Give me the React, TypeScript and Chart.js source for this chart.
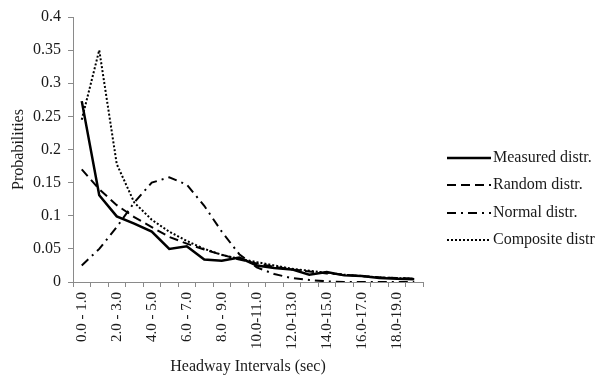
import React, { useEffect, useRef } from "react";
import { Chart, registerables } from "chart.js";

Chart.register(...registerables);

const categories = [
  "0.0 - 1.0", "1.0 - 2.0", "2.0 - 3.0", "3.0 - 4.0", "4.0 - 5.0",
  "5.0 - 6.0", "6.0 - 7.0", "7.0 - 8.0", "8.0 - 9.0", "9.0 - 10.0",
  "10.0-11.0", "11.0-12.0", "12.0-13.0", "13.0-14.0", "14.0-15.0",
  "15.0-16.0", "16.0-17.0", "17.0-18.0", "18.0-19.0", "19.0-20.0",
];

const measured = [0.273, 0.131, 0.099, 0.088, 0.076, 0.050, 0.054, 0.034, 0.032, 0.037, 0.025, 0.021, 0.019, 0.011, 0.015, 0.010, 0.009, 0.006, 0.005, 0.004];
const random = [0.170, 0.140, 0.116, 0.098, 0.083, 0.068, 0.058, 0.049, 0.041, 0.034, 0.028, 0.023, 0.019, 0.016, 0.013, 0.011, 0.009, 0.007, 0.006, 0.005];
const normal = [0.025, 0.050, 0.083, 0.120, 0.150, 0.158, 0.147, 0.115, 0.076, 0.042, 0.022, 0.012, 0.006, 0.003, 0.001, 0.000, 0.000, 0.000, 0.000, 0.000];
const composite = [0.245, 0.350, 0.178, 0.120, 0.094, 0.076, 0.062, 0.050, 0.041, 0.035, 0.030, 0.025, 0.020, 0.017, 0.014, 0.011, 0.009, 0.007, 0.006, 0.005];

const seriesNames = ["Measured distr.", "Random distr.", "Normal distr.", "Composite distr."];

const FONT = "'Liberation Serif', 'Times New Roman', serif";
const TEXT = "#1a1a1a";
const AXIS = "#8a8a8a";

const legendPlugin = {
  id: "customLegend",
  afterDraw(chart: any) {
    const ctx = chart.ctx;
    const x0 = 447;
    const lineW = 44;
    const rows = [158, 185, 213, 240];
    ctx.save();
    chart.data.datasets.forEach((ds: any, i: number) => {
      const y = rows[i];
      ctx.beginPath();
      ctx.setLineDash(ds.borderDash || []);
      ctx.lineWidth = ds.borderWidth;
      ctx.strokeStyle = ds.borderColor;
      ctx.moveTo(x0, y);
      ctx.lineTo(x0 + lineW, y);
      ctx.stroke();
      ctx.setLineDash([]);
      ctx.fillStyle = TEXT;
      ctx.font = `16px ${FONT}`;
      ctx.textBaseline = "middle";
      ctx.textAlign = "left";
      ctx.fillText(ds.label, x0 + lineW + 2, y);
    });
    ctx.restore();
  },
};

export default function App() {
  const ref = useRef<HTMLCanvasElement | null>(null);
  useEffect(() => {
    if (!ref.current) return;
    const mk = (label: string, data: number[], width: number, dash: number[]) => ({
      label,
      data,
      borderColor: "#000000",
      backgroundColor: "#000000",
      borderWidth: width,
      borderDash: dash,
      pointRadius: 0,
      tension: 0,
      fill: false,
    });
    const chart = new Chart(ref.current, {
      type: "line",
      data: {
        labels: categories,
        datasets: [
          mk(seriesNames[0], measured, 2.5, []),
          mk(seriesNames[1], random, 2, [9, 5]),
          mk(seriesNames[2], normal, 2, [9, 5, 2, 5]),
          mk(seriesNames[3], composite, 2, [2, 2]),
        ],
      },
      options: {
        animation: false,
        responsive: false,
        layout: { padding: { top: 17, right: 172, left: 0, bottom: 0 } },
        plugins: {
          legend: { display: false },
          tooltip: { enabled: false },
        },
        scales: {
          x: {
            offset: true,
            grid: {
              offset: true,
              drawOnChartArea: false,
              drawTicks: true,
              tickLength: 5,
              color: AXIS,
            },
            border: { display: true, color: AXIS, width: 1 },
            ticks: {
              autoSkip: false,
              maxRotation: 90,
              minRotation: 90,
              padding: 5,
              color: TEXT,
              font: { family: FONT, size: 15 },
              callback: function (this: any, val: any, idx: number) {
                return idx % 2 === 0 ? this.getLabelForValue(val) : "";
              },
            },
            title: {
              display: true,
              text: "Headway Intervals (sec)",
              color: TEXT,
              font: { family: FONT, size: 16 },
              padding: { top: 8, bottom: 0 },
            },
            afterFit: (scale: any) => {
              scale.height = 376 - 282;
            },
          },
          y: {
            min: 0,
            max: 0.4,
            grid: {
              drawOnChartArea: false,
              drawTicks: true,
              tickLength: 5,
              color: AXIS,
            },
            border: { display: true, color: AXIS, width: 1 },
            ticks: {
              stepSize: 0.05,
              padding: 7,
              color: TEXT,
              font: { family: FONT, size: 16 },
              callback: (v: any) => String(Number(Number(v).toFixed(2))),
            },
            title: {
              display: true,
              text: "Probabilities",
              color: TEXT,
              font: { family: FONT, size: 16 },
              padding: { top: 9, bottom: 0 },
            },
            afterFit: (scale: any) => {
              scale.width = 73;
            },
          },
        },
      },
      plugins: [legendPlugin],
    });
    return () => chart.destroy();
  }, []);
  return (
    <div style={{ position: "absolute", left: 0, top: 0, width: 595, height: 376, background: "#fff" }}>
      <canvas ref={ref} width={595} height={376} style={{ display: "block", width: 595, height: 376 }} />
    </div>
  );
}
